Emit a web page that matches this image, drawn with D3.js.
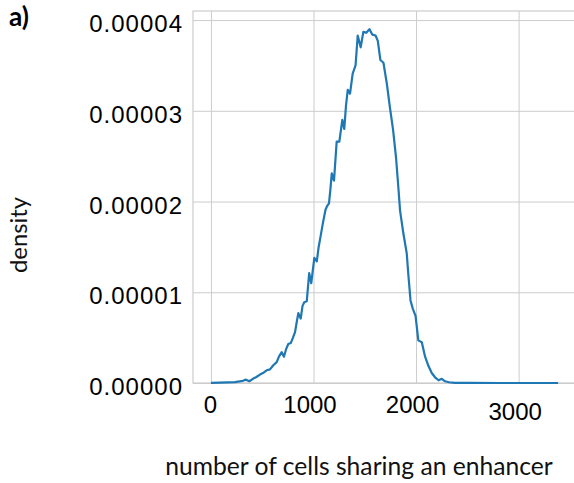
<!DOCTYPE html>
<html>
<head>
<meta charset="utf-8">
<script src="https://cdn.jsdelivr.net/npm/d3@7"></script>
<style>
  html, body { margin: 0; padding: 0; background: #fff; }
  svg { display: block; }
</style>
</head>
<body>
<svg id="chart" width="574" height="483"></svg>
<script>
// Density of the number of cells that share an enhancer
const cellCounts = [0, 88, 234, 312, 341, 374, 413, 439, 478, 507, 543, 576, 608, 641, 663, 690, 712, 732,
  754, 778, 800, 820, 836, 852, 875, 893, 910, 934, 958, 978, 1008, 1032, 1049, 1068, 1093, 1117, 1132,
  1151, 1166, 1178, 1200, 1226, 1252, 1281, 1300, 1317, 1334, 1356, 1382, 1410, 1431, 1460, 1486, 1515,
  1546, 1573, 1605, 1627, 1652, 1682, 1715, 1746, 1776, 1805, 1827, 1844, 1876, 1909, 1925, 1946, 1968,
  1995, 2022, 2056, 2088, 2120, 2153, 2185, 2220, 2251, 2283, 2322, 2380, 2527, 2820, 3385];
const densityValues = [0.00000002, 0.00000004, 0.0000001, 0.00000024, 0.00000037, 0.00000019, 0.00000049,
  0.00000063, 0.00000093, 0.0000011, 0.0000014, 0.0000015, 0.00000195, 0.0000023, 0.0000029, 0.0000034,
  0.0000029, 0.0000037, 0.0000043, 0.0000044, 0.0000050, 0.0000056, 0.0000067, 0.0000077, 0.0000071,
  0.0000085, 0.0000089, 0.0000090, 0.0000121, 0.0000110, 0.0000138, 0.0000134, 0.0000149, 0.0000161,
  0.0000177, 0.0000191, 0.0000195, 0.0000198, 0.0000215, 0.0000231, 0.0000223, 0.0000266, 0.0000266,
  0.0000290, 0.0000280, 0.0000306, 0.0000323, 0.0000319, 0.0000341, 0.0000350, 0.0000383, 0.0000370,
  0.0000387, 0.0000386, 0.0000390, 0.0000384, 0.0000383, 0.0000377, 0.0000356, 0.0000353, 0.0000330,
  0.0000303, 0.0000279, 0.0000248, 0.0000216, 0.0000190, 0.0000165, 0.0000143, 0.0000119, 0.0000091,
  0.0000082, 0.0000074, 0.0000047, 0.0000045, 0.0000029, 0.0000019, 0.0000011, 0.00000063, 0.0000003,
  0.00000046, 0.00000019, 0.00000008, 0.00000002, 0.00000001, 0, 0];
const xTicks = [0, 1000, 2000, 3000];
const yTicks = [0, 0.00001, 0.00002, 0.00003, 0.00004];
const panelLabel = "a)";
const xTitle = "number of cells sharing an enhancer";
const yTitle = "density";

const svg = d3.select("#chart");
const plotLeft = 193, plotTop = 11, plotRight = 574, plotBottom = 383;
const gridColor = "#cccccc";
const tickFont = "'Liberation Sans', Arial, sans-serif";
const titleFont = "Lato, 'Open Sans', sans-serif";

const x = d3.scaleLinear().domain([-175, 3540]).range([plotLeft, plotRight]);
const y = d3.scaleLinear().domain([0, 0.000041]).range([plotBottom, plotTop]);

// Vertical gridlines and tick labels
const xAxis = svg.append("g")
  .attr("transform", `translate(0,${plotBottom})`)
  .call(d3.axisBottom(x).tickValues(xTicks).tickFormat(d3.format("d"))
    .tickSizeInner(-(plotBottom - plotTop)).tickSizeOuter(0).tickPadding(13));
xAxis.select(".domain").remove();
xAxis.selectAll(".tick line").attr("stroke", gridColor).attr("stroke-width", 1);
xAxis.selectAll(".tick text")
  .attr("fill", "#000")
  .style("font-family", tickFont)
  .style("font-size", "24px")
  .attr("dx", d => d === 0 ? -1 : -4)
  .attr("transform", d => d === 3000 ? "translate(0,7)" : null);

// Horizontal gridlines and tick labels
const yAxis = svg.append("g")
  .attr("transform", `translate(${plotLeft},0)`)
  .call(d3.axisLeft(y).tickValues(yTicks).tickFormat(d3.format(".5f"))
    .tickSizeInner(-(plotRight - plotLeft)).tickSizeOuter(0).tickPadding(10));
yAxis.select(".domain").remove();
yAxis.selectAll(".tick line").attr("stroke", gridColor).attr("stroke-width", 1);
yAxis.selectAll(".tick text")
  .attr("fill", "#000")
  .attr("dy", "0.48em")
  .style("font-family", tickFont)
  .style("font-size", "24px")
  .style("letter-spacing", "1px");

// Plot frame
svg.append("rect")
  .attr("x", plotLeft).attr("y", plotTop)
  .attr("width", plotRight - plotLeft + 10).attr("height", plotBottom - plotTop)
  .attr("fill", "none").attr("stroke", gridColor).attr("stroke-width", 1.2);

// Density curve
const points = cellCounts.map((c, i) => [c, densityValues[i]]);
svg.append("path")
  .datum(points)
  .attr("fill", "none")
  .attr("stroke", "#1f77b4")
  .attr("stroke-width", 2.2)
  .attr("stroke-linejoin", "round")
  .attr("d", d3.line().x(d => x(d[0])).y(d => y(d[1])));

// Titles, sized to their text widths
function fitWidth(sel, width) {
  const w = sel.node().getComputedTextLength();
  const fs = parseFloat(sel.style("font-size"));
  sel.style("font-size", (fs * width / w) + "px");
}

const xt = svg.append("text")
  .attr("x", 359).attr("y", 475)
  .attr("text-anchor", "middle")
  .style("font-family", titleFont)
  .style("font-size", "20px")
  .attr("fill", "#111")
  .text(xTitle);
fitWidth(xt, 388);

const yt = svg.append("text")
  .attr("transform", "translate(27,235) rotate(-90)")
  .attr("text-anchor", "middle")
  .style("font-family", titleFont)
  .style("font-size", "20px")
  .attr("fill", "#111")
  .text(yTitle);
fitWidth(yt, 76);

const pl = svg.append("text")
  .attr("x", 9).attr("y", 26)
  .style("font-family", titleFont)
  .style("font-size", "20px")
  .style("font-weight", "bold")
  .attr("fill", "#000")
  .text(panelLabel);
fitWidth(pl, 20);
</script>
</body>
</html>
